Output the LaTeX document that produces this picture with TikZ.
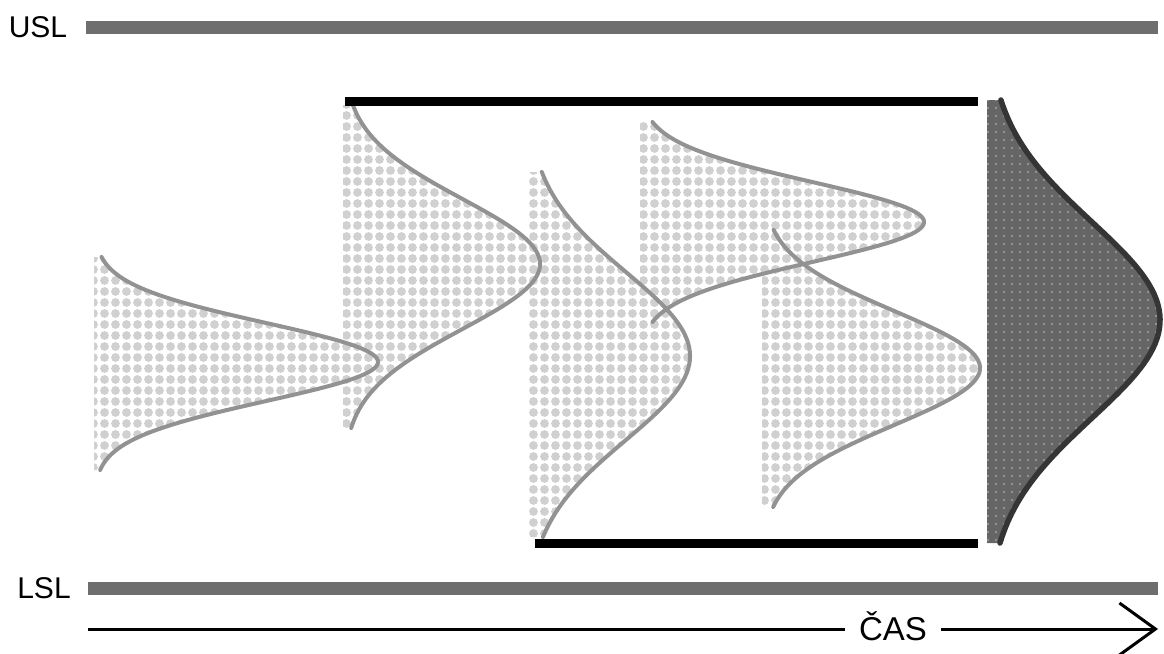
\documentclass[tikz,border=0pt]{standalone}
\usepackage{fontspec}
\setmainfont{Liberation Sans}
\usetikzlibrary{arrows.meta}
\definecolor{limitgray}{HTML}{6E6E6E}
\definecolor{dotgray}{HTML}{D0D0D0}
\definecolor{curvegray}{HTML}{929292}
\definecolor{darkfill}{HTML}{656565}
\definecolor{darkline}{HTML}{353535}
% #1 x0, #2 amplitude, #3 mean, #4 sigma, #5 top, #6 bottom
\newcommand\distpath[6]{%
  plot[domain=#5:#6,samples=90,variable=\t]
    ({#1+#2*exp(-0.5*((\t-#3)/#4)^2)},\t) -- (#1,#6) -- (#1,#5) -- cycle}
% dots: #7 period, #8 radius, #9 fill style
\newcommand\distdots[9]{%
  \begin{scope}
    \clip \distpath{#1}{#2}{#3}{#4}{#5}{#6};
    \pgfmathtruncatemacro\ia{floor(#1/#7)-1}
    \pgfmathtruncatemacro\ib{ceil((#1+#2)/#7)}
    \pgfmathtruncatemacro\ja{floor(#5/#7)-1}
    \pgfmathtruncatemacro\jb{ceil(#6/#7)}
    \fill[#9] \foreach \i in {\ia,...,\ib} {\foreach \j in {\ja,...,\jb}
      {(#7*\i+#7/2,#7*\j+#7/2) circle[radius=#8]}};
  \end{scope}}
\newcommand\distline[7]{%
  \draw[#1] plot[domain=#6:#7,samples=90,variable=\t]
    ({#2+#3*exp(-0.5*((\t-#4)/#5)^2)},\t);}
\tikzset{
  lbl/.style={font=\fontsize{30}{34}\selectfont, inner sep=0pt},
  limitbar/.style={draw=limitgray, line width=13pt},
  blackbar/.style={draw=black, line width=9pt},
  lightdot/.style={fill=dotgray},
  speck/.style={fill=white, opacity=0.3},
  lightline/.style={draw=curvegray, line width=4pt, line cap=round},
  darkarea/.style={fill=darkfill},
  darkcurve/.style={draw=darkline, line width=5.5pt, line cap=round},
  timeline/.style={draw=black, line width=3pt},
}
\begin{document}
\begin{tikzpicture}[x=1pt,y=-1pt]
\useasboundingbox (0,0) rectangle (1164,653);
% dotted fills of the light distributions
\distdots{94}{284}{362}{39}{257}{470}{11}{4.4}{lightdot}
\distdots{343}{197}{264}{65}{105}{428}{11}{4.4}{lightdot}
\distdots{527}{163}{356}{84}{172}{537}{11}{4.4}{lightdot}
\distdots{640}{284}{222}{40}{122}{322}{11}{4.4}{lightdot}
\distdots{762}{218}{368}{57}{230}{507}{11}{4.4}{lightdot}
% outlines
\distline{lightline}{94}{284}{362}{39}{257}{470}
\distline{lightline}{343}{197}{264}{65}{105}{428}
\distline{lightline}{527}{163}{356}{84}{172}{537}
\distline{lightline}{640}{284}{222}{40}{122}{322}
\distline{lightline}{762}{218}{368}{57}{230}{507}
% final distribution
\fill[darkarea] \distpath{987}{173}{320}{98}{100}{543};
\distdots{987}{173}{320}{98}{100}{543}{8}{1.4}{speck}
\distline{darkcurve}{987}{173}{320}{98}{100}{543}
% black bars
\coordinate (topA) at (345,101);
\coordinate (topB) at (978,101);
\coordinate (botA) at (535,543);
\coordinate (botB) at (978,543);
\draw[blackbar] (topA) -- (topB);
\draw[blackbar] (botA) -- (botB);
% limits
\node[lbl] (usl) at (38,27) {USL};
\node[lbl] (lsl) at (44,588) {LSL};
\coordinate (uslA) at (86,27);
\coordinate (uslB) at (1158,27);
\coordinate (lslA) at (88,588);
\coordinate (lslB) at (1158,588);
\draw[limitbar] (uslA) -- (uslB);
\draw[limitbar] (lslA) -- (lslB);
% time axis
\coordinate (t0) at (88,629);
\coordinate (t1) at (1158,629);
\node[lbl, font=\fontsize{33}{36}\selectfont, inner xsep=14pt, anchor=base] (cas) at (893,640) {ČAS};
\draw[timeline] (t0) -- (t0 -| cas.west);
\draw[timeline, -{Straight Barb[length=36pt,width=52pt]}] (t1 -| cas.east) -- (t1);
\end{tikzpicture}
\end{document}
